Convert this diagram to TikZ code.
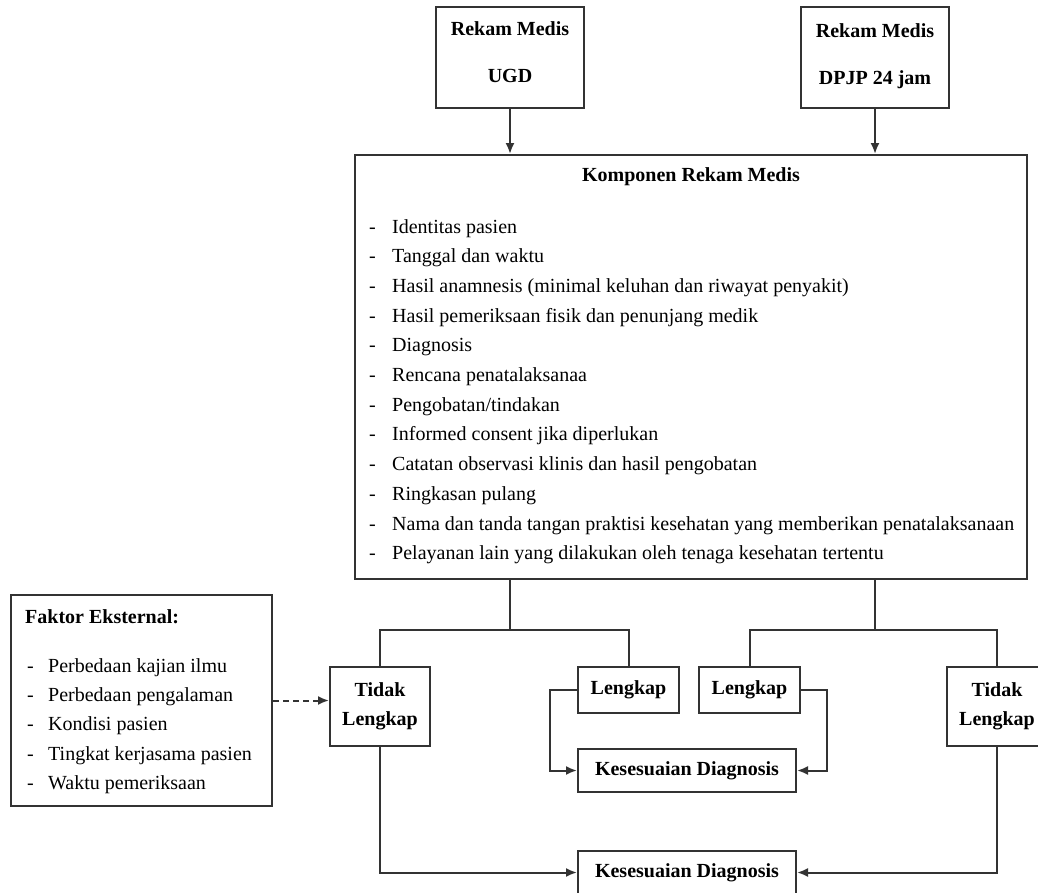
\documentclass[tikz,border=0pt]{standalone}
\usepackage{fontspec}
\setmainfont{Liberation Serif}
\usetikzlibrary{arrows.meta}

\begin{document}
\begin{tikzpicture}[x=1pt,y=-1pt,
    box/.style={draw=black!80, line width=2pt, inner sep=0pt, align=center,
      font=\bfseries\fontsize{20}{29}\selectfont},
    heading/.style={inner sep=0pt, font=\bfseries\fontsize{20}{24}\selectfont},
    txt/.style={inner sep=0pt, anchor=base west, font=\fontsize{20}{24}\selectfont},
    link/.style={draw=black!80, line width=2pt},
    arr/.style={link, -{Latex[length=11pt,width=9pt]}}]
  \useasboundingbox (0,0) rectangle (1038,892);

  \node[box, minimum width=148pt, minimum height=101pt] (ugd) at (510,57.5) {Rekam Medis\\[18pt]UGD\\[-19pt]};
  \node[box, minimum width=148pt, minimum height=101pt] (dpjp) at (875,57.5) {Rekam Medis\\[18pt]DPJP 24 jam\\[-23pt]};

  \node[box, minimum width=672pt, minimum height=424pt] (rm) at (691,367) {};
  \node[heading] (rmtitle) at (691,177) {Komponen Rekam Medis};
  \foreach \t [count=\i] in {{Identitas pasien},{Tanggal dan waktu},
      {Hasil anamnesis (minimal keluhan dan riwayat penyakit)},
      {Hasil pemeriksaan fisik dan penunjang medik},{Diagnosis},
      {Rencana penatalaksanaa},{Pengobatan/tindakan},
      {Informed consent jika diperlukan},
      {Catatan observasi klinis dan hasil pengobatan},{Ringkasan pulang},
      {Nama dan tanda tangan praktisi kesehatan yang memberikan penatalaksanaan},
      {Pelayanan lain yang dilakukan oleh tenaga kesehatan tertentu}} {
    \node[txt] (rmdash\i) at (369,{233+29.7*(\i-1)}) {-};
    \node[txt] (rmitem\i) at (392,{233+29.7*(\i-1)}) {\t};
  }

  \node[box, minimum width=261pt, minimum height=211pt] (faktor) at (141.5,700.5) {};
  \node[heading, anchor=base west] (fktitle) at (25,623) {Faktor Eksternal:};
  \foreach \t [count=\i] in {{Perbedaan kajian ilmu},{Perbedaan pengalaman},
      {Kondisi pasien},{Tingkat kerjasama pasien},{Waktu pemeriksaan}} {
    \node[txt] (fkdash\i) at (27,{672+29.4*(\i-1)}) {-};
    \node[txt] (fkitem\i) at (48,{672+29.4*(\i-1)}) {\t};
  }

  \node[box, minimum width=100pt, minimum height=79pt] (tl1) at (380,706.5) {Tidak\\Lengkap};
  \node[box, minimum width=101pt, minimum height=46pt] (l1) at (628.5,690) {Lengkap};
  \node[box, minimum width=101pt, minimum height=46pt] (l2) at (749.5,690) {Lengkap};
  \node[box, minimum width=100pt, minimum height=79pt] (tr) at (997,706.5) {Tidak\\Lengkap};
  \node[box, minimum width=218pt, minimum height=43pt] (kes1) at (687,770.5) {Kesesuaian Diagnosis};
  \node[box, minimum width=218pt, minimum height=43pt] (kes2) at (687,872.5) {Kesesuaian Diagnosis};

  \coordinate (splitL) at (510,630);
  \coordinate (splitR) at (875,630);

  \draw[arr] (ugd) -- (rm.north -| ugd);
  \draw[arr] (dpjp) -- (rm.north -| dpjp);
  \draw[link] (rm.south -| ugd) -- (splitL);
  \draw[link] (rm.south -| dpjp) -- (splitR);
  \draw[link] (tl1) |- (splitL) -| (l1);
  \draw[link] (l2) |- (splitR) -| (tr);
  \draw[arr] (l1.west) -- ++(-27,0) |- (kes1.west);
  \draw[arr] (l2.east) -- ++(26,0) |- (kes1.east);
  \draw[arr] (tl1) |- (kes2);
  \draw[arr] (tr) |- (kes2);
  \draw[arr, dash pattern=on 6pt off 4pt] (faktor.east) -- (faktor.east -| tl1.west);
\end{tikzpicture}
\end{document}
